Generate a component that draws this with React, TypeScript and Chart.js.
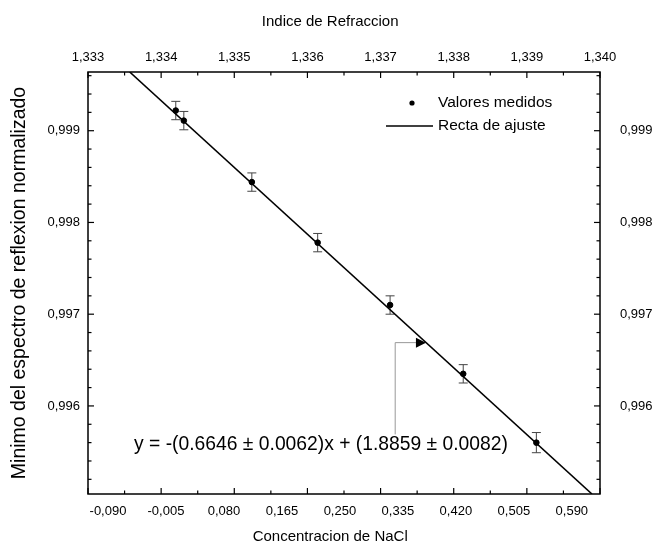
import React, { useEffect, useRef } from 'react';
import { Chart, registerables } from 'chart.js';

Chart.register(...registerables);

// ---- data ----
const refIndex = [1.3342, 1.33431, 1.33524, 1.33614, 1.33713, 1.33813, 1.33913];
const reflMin = [0.99922, 0.99911, 0.99844, 0.99778, 0.9971, 0.99635, 0.9956];
const reflErr = [0.0001, 0.0001, 0.0001, 0.0001, 0.0001, 0.0001, 0.00011];
const fitX = [1.33357, 1.33989];
const fitY = [0.99964, 0.99504];
const topTicks = [1.333, 1.334, 1.335, 1.336, 1.337, 1.338, 1.339, 1.34];
const concTicks = [-0.09, -0.005, 0.08, 0.165, 0.25, 0.335, 0.42, 0.505, 0.59];
const yTicks = [0.996, 0.997, 0.998, 0.999];
const seriesLabels = ['Valores medidos', 'Recta de ajuste'];
const topTitle = 'Indice de Refraccion';
const bottomTitle = 'Concentracion de NaCl';
const leftTitle = 'Minimo del espectro de reflexion normalizado';
const equationText = 'y = -(0.6646 ± 0.0062)x + (1.8859 ± 0.0082)';

const FONT = '"Liberation Sans", Arial, sans-serif';
const comma = (v: number) => v.toFixed(3).replace('.', ',');

const errorBarPlugin = {
  id: 'errorBars',
  beforeDatasetsDraw(chart: any) {
    const { ctx } = chart;
    const xs = chart.scales.x;
    const ys = chart.scales.y;
    ctx.save();
    ctx.strokeStyle = '#444';
    ctx.lineWidth = 1;
    refIndex.forEach((xv, i) => {
      const px = xs.getPixelForValue(xv);
      const pt = ys.getPixelForValue(reflMin[i] + reflErr[i]);
      const pb = ys.getPixelForValue(reflMin[i] - reflErr[i]);
      ctx.beginPath();
      ctx.moveTo(px, pt); ctx.lineTo(px, pb);
      ctx.moveTo(px - 4.5, pt); ctx.lineTo(px + 4.5, pt);
      ctx.moveTo(px - 4.5, pb); ctx.lineTo(px + 4.5, pb);
      ctx.stroke();
    });
    ctx.restore();
  },
};

const framePlugin = {
  id: 'frameTicks',
  afterDraw(chart: any) {
    const { ctx, chartArea: a } = chart;
    const xs = chart.scales.x;
    const ys = chart.scales.y;
    ctx.save();
    ctx.strokeStyle = '#000';
    ctx.lineWidth = 1.2;
    const seg = (x1: number, y1: number, x2: number, y2: number) => {
      ctx.beginPath(); ctx.moveTo(x1, y1); ctx.lineTo(x2, y2); ctx.stroke();
    };
    const MAJ = 6, MIN = 3.5;
    topTicks.forEach((v, i) => {
      const px = xs.getPixelForValue(v);
      seg(px, a.top, px, a.top + MAJ);
      seg(px, a.bottom, px, a.bottom - MAJ);
      if (i < topTicks.length - 1) {
        const pm = xs.getPixelForValue((v + topTicks[i + 1]) / 2);
        seg(pm, a.top, pm, a.top + MIN);
        seg(pm, a.bottom, pm, a.bottom - MIN);
      }
    });
    const step = 0.0002;
    const start = Math.ceil(ys.min / step - 1e-6);
    const end = Math.floor(ys.max / step + 1e-6);
    for (let k = start; k <= end; k++) {
      const v = k * step;
      const major = yTicks.some((t) => Math.abs(t - v) < 1e-7);
      const py = ys.getPixelForValue(v);
      const L = major ? MAJ : MIN;
      seg(a.left, py, a.left + L, py);
      seg(a.right, py, a.right - L, py);
    }
    ctx.lineWidth = 1.5;
    ctx.strokeRect(a.left, a.top, a.right - a.left, a.bottom - a.top);

    ctx.fillStyle = '#000';
    ctx.textBaseline = 'middle';

    // x-axis titles (slightly left of the frame centre, as in the reference)
    ctx.textAlign = 'center';
    ctx.font = `15px ${FONT}`;
    const titleX = a.left + (a.right - a.left) * 0.473;
    ctx.fillText(topTitle, titleX, 22);
    ctx.fillText(bottomTitle, titleX, chart.height - 19);

    // legend
    const ds = chart.data.datasets;
    ctx.textAlign = 'left';
    ctx.font = `15.5px ${FONT}`;
    const lx = a.right - 162;
    const r1 = a.top + 31, r2 = a.top + 54;
    ctx.beginPath(); ctx.arc(lx - 26, r1, 2.6, 0, Math.PI * 2); ctx.fill();
    ctx.fillText(ds[0].label, lx, r1);
    ctx.lineWidth = 1.5;
    seg(lx - 52, r2, lx - 5, r2);
    ctx.fillText(ds[1].label, lx, r2);

    // annotation: arrow + equation
    const tipX = xs.getPixelForValue(1.33762);
    const cornerX = xs.getPixelForValue(1.3372);
    const arrY = ys.getPixelForValue(0.99669);
    const footY = ys.getPixelForValue(0.99569);
    ctx.strokeStyle = '#999';
    ctx.lineWidth = 1;
    ctx.beginPath();
    ctx.moveTo(cornerX, footY); ctx.lineTo(cornerX, arrY); ctx.lineTo(tipX - 9, arrY);
    ctx.stroke();
    ctx.fillStyle = '#000';
    ctx.beginPath();
    ctx.moveTo(tipX, arrY); ctx.lineTo(tipX - 10, arrY - 5); ctx.lineTo(tipX - 10, arrY + 5);
    ctx.closePath(); ctx.fill();
    ctx.font = `19.3px ${FONT}`;
    ctx.fillText(equationText, xs.getPixelForValue(1.33363), ys.getPixelForValue(0.99558));
    ctx.restore();
  },
};

export default function App() {
  const ref = useRef<HTMLCanvasElement | null>(null);
  useEffect(() => {
    document.body.style.margin = '0';
    const canvas = ref.current;
    if (!canvas) return;
    const tickFont = { family: FONT, size: 13 };
    const chart = new Chart(canvas, {
      type: 'scatter',
      data: {
        datasets: [
          {
            label: seriesLabels[0],
            data: refIndex.map((x, i) => ({ x, y: reflMin[i] })),
            backgroundColor: '#000',
            borderColor: '#000',
            pointRadius: 2.8,
            showLine: false,
            xAxisID: 'x',
            yAxisID: 'y',
          },
          {
            label: seriesLabels[1],
            data: fitX.map((x, i) => ({ x, y: fitY[i] })),
            borderColor: '#000',
            backgroundColor: '#000',
            borderWidth: 1.6,
            pointRadius: 0,
            showLine: true,
            xAxisID: 'x',
            yAxisID: 'y',
          },
        ],
      },
      options: {
        responsive: false,
        animation: false,
        devicePixelRatio: 1,
        layout: { padding: 0 },
        plugins: { legend: { display: false }, tooltip: { enabled: false } },
        scales: {
          x: {
            type: 'linear',
            position: 'top',
            min: 1.333,
            max: 1.34,
            afterBuildTicks: (s: any) => { s.ticks = topTicks.map((value) => ({ value })); },
            afterFit: (s: any) => { s.height = 72; },
            grid: { display: false, drawTicks: false },
            border: { display: false },
            ticks: { font: tickFont, color: '#000', padding: 7, maxRotation: 0, autoSkip: false, callback: (v: any) => comma(Number(v)) },
          },
          xb: {
            type: 'linear',
            position: 'bottom',
            min: -0.1193,
            max: 0.6313,
            afterBuildTicks: (s: any) => { s.ticks = concTicks.map((value) => ({ value })); },
            afterFit: (s: any) => { s.height = 62; },
            grid: { display: false, drawTicks: false },
            border: { display: false },
            ticks: { font: tickFont, color: '#000', padding: 10, maxRotation: 0, autoSkip: false, callback: (v: any) => comma(Number(v)) },
          },
          y: {
            type: 'linear',
            position: 'left',
            min: 0.99504,
            max: 0.99964,
            afterBuildTicks: (s: any) => { s.ticks = yTicks.map((value) => ({ value })); },
            afterFit: (s: any) => { s.width = 88; },
            grid: { display: false, drawTicks: false },
            border: { display: false },
            ticks: { font: tickFont, color: '#000', padding: 8, autoSkip: false, callback: (v: any) => comma(Number(v)) },
            title: { display: true, text: leftTitle, font: { family: FONT, size: 19.5 }, color: '#000', padding: { top: 8, bottom: 0 } },
          },
          y2: {
            type: 'linear',
            position: 'right',
            min: 0.99504,
            max: 0.99964,
            afterBuildTicks: (s: any) => { s.ticks = yTicks.map((value) => ({ value })); },
            afterFit: (s: any) => { s.width = 57; },
            grid: { display: false, drawTicks: false },
            border: { display: false },
            ticks: { font: tickFont, color: '#000', padding: 20, autoSkip: false, callback: (v: any) => comma(Number(v)) },
          },
        },
      },
      plugins: [errorBarPlugin, framePlugin],
    } as any);
    return () => chart.destroy();
  }, []);
  return (
    <div style={{ width: 657, height: 556, background: '#fff' }}>
      <canvas ref={ref} width={657} height={556} />
    </div>
  );
}
